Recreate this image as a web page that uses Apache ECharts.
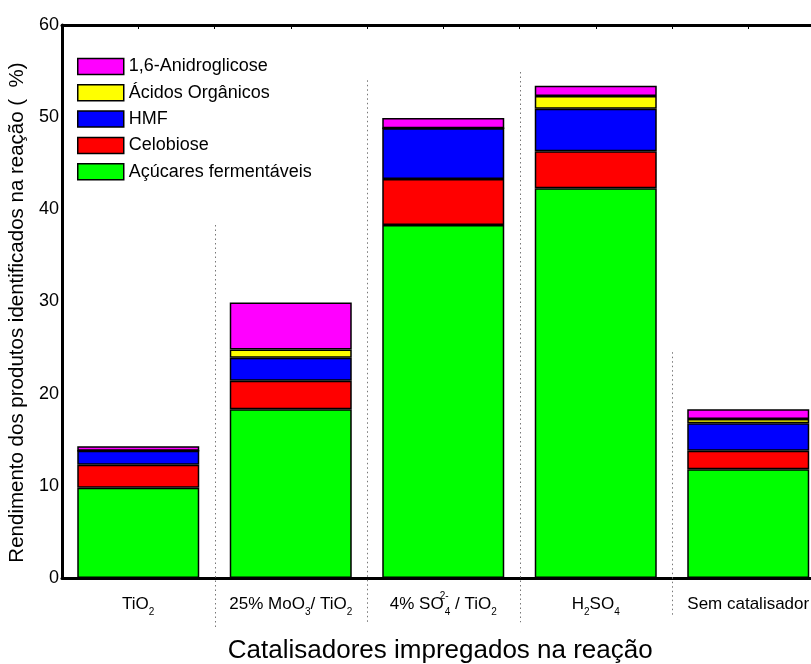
<!DOCTYPE html>
<html>
<head>
    <meta charset="UTF-8">
    <title>Rendimento</title>
    <script src="https://cdn.jsdelivr.net/npm/echarts@6/dist/echarts.min.js"></script>
    <style>html,body{margin:0;padding:0;background:#fff;} #main{width:811px;height:664px;}</style>
</head>
<body>
<div id="main"></div>
<script>
    // catalisadores (eixo x)
    var categorias = ['TiO2', '25% MoO3/ TiO2', '4% SO4 2- / TiO2', 'H2SO4', 'Sem catalisador'];
    // rotulos com sub/sobrescrito (rich text)
    var rotulos = [
        '{m|TiO}{s|2}',
        '{m|25% MoO}{s|3}{m|/ TiO}{s|2}',
        '{m|4% SO}{p|2-}{s|4}{m| / TiO}{s|2}',
        '{m|H}{s|2}{m|SO}{s|4}',
        '{m|Sem catalisador}'
    ];

    // valores (%)
    var acucares   = [9.8, 18.3, 38.3, 42.3, 11.8];
    var celobiose  = [2.5, 3.1, 5.0, 4.0, 2.0];
    var hmf        = [1.5, 2.5, 5.5, 4.6, 3.0];
    var acidos     = [0, 0.9, 0, 1.4, 0.45];
    var anidro     = [0.5, 5.1, 1.1, 1.1, 1.05];

    var yTicks = [0, 10, 20, 30, 40, 50, 60];

    // linhas pontilhadas entre categorias (inicio / fim em unidades do eixo y)
    var sepTopo  = [38.3, 54.0, 54.9, 24.5];
    var sepBase  = [-5.6, -4.9, -4.8, -4.3];

    var fonte = "'Liberation Sans', Arial, sans-serif";

    var chart = echarts.init(document.getElementById('main'));

    var bordaBarra = {borderColor: '#000', borderWidth: 1.5};

    function serieBarra(nome, dados, cor) {
        return {
            name: nome,
            type: 'bar',
            stack: 'total',
            barWidth: '80%',
            data: dados,
            itemStyle: {color: cor, borderColor: '#000', borderWidth: 1.5},
            emphasis: {disabled: true}
        };
    }

    var sepData = [];
    for (var i = 0; i < sepTopo.length; i++) {
        sepData.push([i + 1, sepTopo[i], sepBase[i]]);
    }

    var option = {
        animation: false,
        backgroundColor: '#fff',
        grid: {left: 62, top: 25, right: -13.5, bottom: 86, containLabel: false, outerBoundsMode: 'none'},
        legend: {
            orient: 'vertical',
            left: 77,
            top: 57.5,
            padding: 0,
            itemWidth: 46,
            itemHeight: 16,
            itemGap: 8.3,
            icon: 'rect',
            data: ['1,6-Anidroglicose', 'Ácidos Orgânicos', 'HMF', 'Celobiose', 'Açúcares fermentáveis'],
            textStyle: {fontFamily: fonte, fontSize: 18, lineHeight: 16, color: '#000'},
            itemStyle: bordaBarra
        },
        xAxis: [{
            type: 'category',
            data: categorias,
            position: 'bottom',
            axisLine: {lineStyle: {color: '#000', width: 3}},
            axisTick: {show: false},
            splitLine: {show: false},
            name: 'Catalisadores impregados na reação',
            nameLocation: 'middle',
            nameGap: 60,
            nameTextStyle: {fontFamily: fonte, fontSize: 26, color: '#000', padding: [0, 6, 0, 0]},
            axisLabel: {
                interval: 0,
                margin: 13,
                formatter: function (v, idx) { return rotulos[idx]; },
                rich: {
                    m: {fontFamily: fonte, fontSize: 17, color: '#000', lineHeight: 26, verticalAlign: 'middle'},
                    s: {fontFamily: fonte, fontSize: 10, color: '#000', lineHeight: 11, verticalAlign: 'bottom'},
                    p: {fontFamily: fonte, fontSize: 10, color: '#000', lineHeight: 21, verticalAlign: 'top', width: 1}
                }
            }
        }, {
            type: 'value',
            position: 'top',
            min: 0,
            max: 5,
            interval: 0.5,
            axisLine: {show: true, lineStyle: {color: '#000', width: 3}},
            axisTick: {show: true, inside: true, length: 4, lineStyle: {color: '#000', width: 1}},
            axisLabel: {show: false},
            splitLine: {show: false}
        }, {
            type: 'value',
            min: 0,
            max: 5,
            show: false
        }],
        yAxis: {
            type: 'value',
            min: 0,
            max: 60,
            interval: 10,
            axisLine: {show: true, lineStyle: {color: '#000', width: 3}},
            axisTick: {show: false},
            splitLine: {show: false},
            axisLabel: {
                margin: 3,
                fontFamily: fonte,
                fontSize: 18,
                color: '#000',
                formatter: function (v) { return yTicks.indexOf(v) >= 0 ? String(v) : ''; }
            },
            name: 'Rendimento dos produtos identificados na reação (  %)',
            nameLocation: 'middle',
            nameGap: 34,
            nameTextStyle: {fontFamily: fonte, fontSize: 20.5, color: '#000', padding: [0, 22, 0, 0]}
        },
        series: [
            serieBarra('Açúcares fermentáveis', acucares, '#00ff00'),
            serieBarra('Celobiose', celobiose, '#ff0000'),
            serieBarra('HMF', hmf, '#0000ff'),
            serieBarra('Ácidos Orgânicos', acidos, '#ffff00'),
            serieBarra('1,6-Anidroglicose', anidro, '#ff00ff'),
            {
                // separadores pontilhados
                type: 'custom',
                xAxisIndex: 2,
                clip: false,
                silent: true,
                data: sepData,
                renderItem: function (params, api) {
                    var p1 = api.coord([api.value(0), api.value(1)]);
                    var p2 = api.coord([api.value(0), api.value(2)]);
                    return {
                        type: 'line',
                        shape: {x1: Math.round(p1[0]) + 0.5, y1: p1[1], x2: Math.round(p2[0]) + 0.5, y2: p2[1]},
                        style: {stroke: '#777', lineWidth: 1, lineDash: [1.5, 3]}
                    };
                }
            }
        ]
    };

    chart.setOption(option);
</script>
</body>
</html>
